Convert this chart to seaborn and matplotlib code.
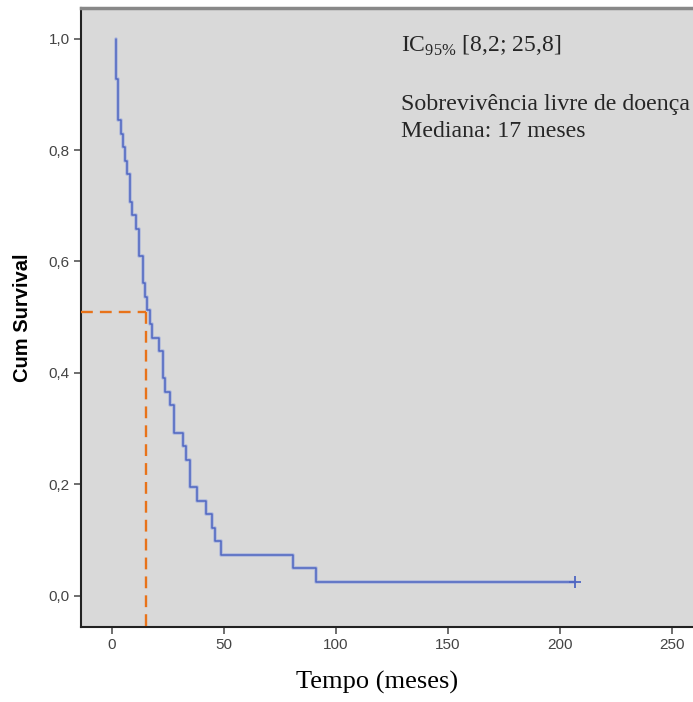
import numpy as np
import pandas as pd
import matplotlib
matplotlib.use("Agg")
import matplotlib.pyplot as plt
from matplotlib.ticker import FuncFormatter
import seaborn as sns

# ---- data ----
n_patients = 41
event_times = [2, 3, 4, 5, 6, 7, 8, 9, 11, 12, 14, 15, 16, 17, 18, 21, 23, 24,
               26, 28, 32, 33, 35, 38, 42, 45, 46, 49, 81, 91]
event_counts = [3, 3, 1, 1, 1, 1, 2, 1, 1, 2, 2, 1, 1, 1, 1, 1, 2, 1,
                1, 2, 1, 1, 2, 1, 1, 1, 1, 1, 1, 1]
censor_times = [207]
median_x = 15.2
median_y = 0.51
x_ticks = [0, 50, 100, 150, 200, 250]
y_ticks = [0.0, 0.2, 0.4, 0.6, 0.8, 1.0]
ci_label = r"IC$_{\mathrm{95\%}}$ [8,2; 25,8]"
text_lines = ["Sobrevivência livre de doença", "Mediana: 17 meses"]

# ---- Kaplan-Meier estimate ----
at_risk = n_patients
surv = []
s = 1.0
for d in event_counts:
    s *= (1 - d / at_risk)
    at_risk -= d
    surv.append(s)

curve = pd.DataFrame({
    "t": [event_times[0]] + event_times + [censor_times[0]],
    "S": [1.0] + surv + [surv[-1]],
})
cens = pd.DataFrame({"t": censor_times, "S": [surv[-1]] * len(censor_times)})

# ---- figure ----
sns.set_style("ticks")
plt.rcParams["font.family"] = ["Liberation Sans", "DejaVu Sans"]
plt.rcParams["mathtext.fontset"] = "custom"
plt.rcParams["mathtext.rm"] = "Liberation Serif"

fig = plt.figure(figsize=(6.93, 7.02), dpi=100)
fig.patch.set_facecolor("white")
ax = fig.add_axes([0.1165, 0.1073, 0.8835, 0.8813])
ax.set_facecolor("#d9d9d9")

sns.lineplot(data=curve, x="t", y="S", ax=ax, sort=False, estimator=None,
             drawstyle="steps-post", color="#92a3de", lw=2.6, alpha=0.6)
sns.lineplot(data=curve, x="t", y="S", ax=ax, sort=False, estimator=None,
             drawstyle="steps-post", color="#4f66c2", lw=1.1)
sns.scatterplot(data=cens, x="t", y="S", ax=ax, marker="+", s=80,
                color="#4f66c2", linewidth=1.3, zorder=5)

xlim = (-13.8, 259.5)
ylim = (-0.0557, 1.055)
ax.set_xlim(*xlim)
ax.set_ylim(*ylim)

# median guide lines
dash = (0, (5, 3))
ax.plot([xlim[0], median_x], [median_y, median_y], color="#e8731a", lw=1.7,
        linestyle=dash, zorder=4)
ax.plot([median_x, median_x], [median_y, ylim[0]], color="#e8731a", lw=1.7,
        linestyle=dash, zorder=4)

ax.set_xticks(x_ticks)
ax.set_yticks(y_ticks)
fmt = FuncFormatter(lambda v, p: f"{v:.1f}".replace(".", ","))
ax.yaxis.set_major_formatter(fmt)
ax.xaxis.set_major_formatter(FuncFormatter(lambda v, p: f"{int(v)}"))
ax.tick_params(axis="both", which="major", direction="out", length=5,
               width=1.2, color="#555555", labelsize=11,
               labelcolor="#444444", pad=3, bottom=True, left=True,
               top=False, right=False)

for side in ["left", "bottom"]:
    ax.spines[side].set_color("#222222")
    ax.spines[side].set_linewidth(1.5)
ax.spines["top"].set_visible(True)
ax.spines["top"].set_color("#888888")
ax.spines["top"].set_linewidth(2.5)
ax.spines["right"].set_visible(False)

ax.set_xlabel("Tempo (meses)", fontfamily="Liberation Serif", fontsize=19,
              color="black")
ax.xaxis.set_label_coords(0.484, -0.072)
ax.set_ylabel("Cum Survival", fontweight="bold", fontsize=14.5,
              color="black")
ax.yaxis.set_label_coords(-0.08, 0.5)

ax.text(0.523, 0.929, ci_label, transform=ax.transAxes, fontsize=17,
        fontfamily="Liberation Serif", va="baseline", ha="left")
ax.text(0.523, 0.835, text_lines[0], transform=ax.transAxes, fontsize=17.2,
        fontfamily="Liberation Serif", va="baseline", ha="left")
ax.text(0.523, 0.792, text_lines[1], transform=ax.transAxes, fontsize=17.2,
        fontfamily="Liberation Serif", va="baseline", ha="left")

fig.savefig("out.png", dpi=100)
